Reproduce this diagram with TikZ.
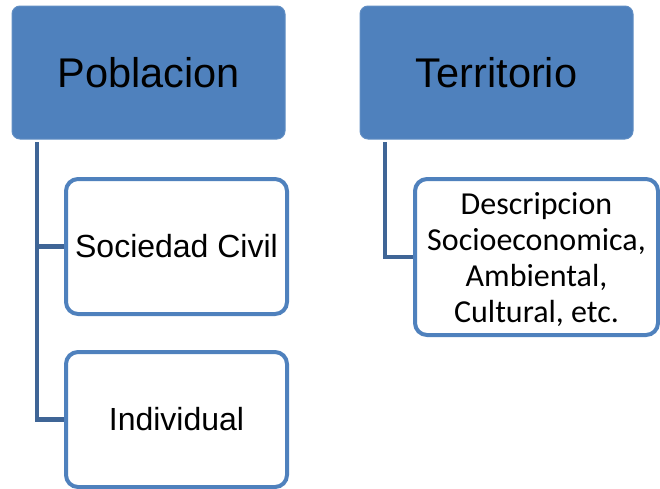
\documentclass[tikz,border=0pt]{standalone}
\usepackage{fontspec}
\setmainfont{Liberation Sans}
\newfontfamily\calib{Carlito}
\definecolor{accent}{HTML}{4F81BD}
\definecolor{linkc}{HTML}{3F6596}
\begin{document}
\begin{tikzpicture}[x=1pt,y=-1pt,
  titlebox/.style={fill=accent,draw=accent!90!white,line width=1pt,rounded corners=8pt,
    minimum width=273pt,minimum height=133pt,inner sep=0pt,
    font=\fontsize{41.5}{48}\selectfont,text=black},
  childbox/.style={fill=white,draw=accent,line width=4pt,rounded corners=12pt,
    inner sep=0pt,text=black,align=center},
  conn/.style={draw=linkc,line width=4.5pt}]
\useasboundingbox (0,0) rectangle (660,488);
\node[titlebox] (pob) at (148.5,72.5) {Poblacion};
\node[titlebox] (terr) at (496.5,72.5) {Territorio};
\node[childbox,minimum width=221pt,minimum height=135pt,font=\fontsize{32}{37}\selectfont] (soc) at (176.5,246.5) {Sociedad Civil};
\node[childbox,minimum width=221pt,minimum height=135pt,font=\fontsize{32}{37}\selectfont] (ind) at (176.5,419.5) {Individual};
\node[childbox,minimum width=243pt,minimum height=156pt,font=\calib\fontsize{32}{36}\selectfont] (desc) at (536.5,257) {\rule{0pt}{28pt}Descripcion\\Socioeconomica,\\Ambiental,\\Cultural, etc.};
\coordinate (p0) at (37,142);
\coordinate (t0) at (385,142);
\draw[conn] (p0) |- (soc.west);
\draw[conn] (p0) |- (ind.west);
\draw[conn] (t0) |- (desc.west);
\end{tikzpicture}
\end{document}
